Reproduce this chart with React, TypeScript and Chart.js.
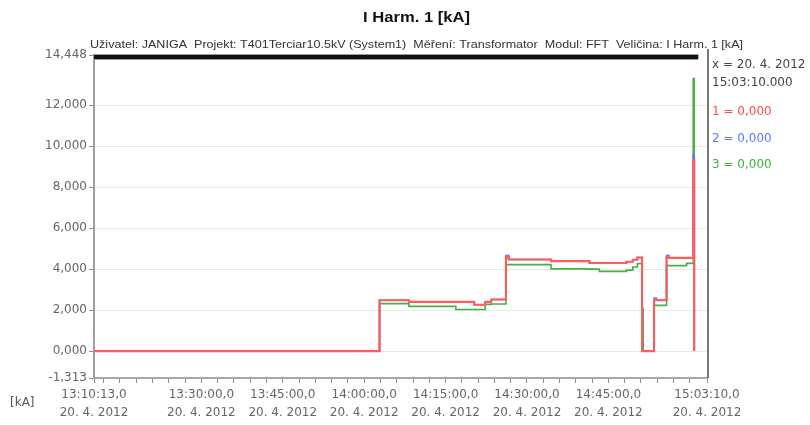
import React, { useEffect, useRef } from 'react';
import { Chart, registerables } from 'chart.js';

Chart.register(...registerables);

// ---- data (kA) ----
const times = [
  '13:10:13', '14:02:50', '14:08:15', '14:16:53', '14:20:17', '14:22:18', '14:23:25',
  '14:26:07', '14:26:40', '14:34:25', '14:41:30', '14:43:20', '14:48:19', '14:49:30',
  '14:50:20', '14:51:13', '14:51:25', '14:53:25', '14:53:50', '14:55:43', '14:56:10',
  '14:59:24', '15:00:38', '15:00:49',
];
const phase1 = [
  0, 2.48, 2.4, 2.4, 2.26, 2.4, 2.52,
  4.56, 4.47, 4.39, 4.3, 4.3, 4.36, 4.46,
  4.57, 0, 0, 2.48, 2.48, 4.55, 4.55,
  4.55, 9.34, 0,
];
const phase2 = [
  0, 2.48, 2.4, 2.4, 2.26, 2.4, 2.52,
  4.66, 4.47, 4.39, 4.3, 4.3, 4.36, 4.46,
  4.57, 0, 0, 2.59, 2.48, 4.66, 4.55,
  4.55, 9.58, 0.1,
];
const phase3 = [
  0, 2.315, 2.18, 2.03, 2.03, 2.28, 2.3,
  4.22, 4.22, 4.01, 4.0, 3.89, 3.95, 4.1,
  4.27, 2.08, 0, 2.23, 2.23, 4.17, 4.17,
  4.28, 13.3, 0,
];
const xStart = '13:10:13';
const xEnd = '15:03:10';
const yMin = -1.313;
const yMax = 14.448;
const yTicks = [-1.313, 0, 2, 4, 6, 8, 10, 12, 14.448];
const dateLabel = '20. 4. 2012';
const cursorTime = '15:03:10.000';
const legendValues = ['0,000', '0,000', '0,000'];
const title = 'I Harm. 1 [kA]';
const subtitle =
  'Uživatel: JANIGA  Projekt: T401Terciar10.5kV (System1)  Měření: Transformator  Modul: FFT  Veličina: I Harm. 1 [kA]';
const unitLabel = '[kA]';

const colors = ['#ff5c5c', '#5a78ff', '#45b045'];
const widths = [2.1, 1.6, 1.6];
const legendColors = ['#ff4a4a', '#5a78ff', '#3cb43c'];

const toSec = (s: string) => {
  const [h, m, sec] = s.split(':').map(Number);
  return h * 3600 + m * 60 + sec;
};
const pad = (n: number) => String(n).padStart(2, '0');
const fmtTime = (v: number) => {
  const h = Math.floor(v / 3600);
  const m = Math.floor((v % 3600) / 60);
  const s = Math.round(v % 60);
  return `${pad(h)}:${pad(m)}:${pad(s)},0`;
};
const fmtVal = (v: number) => Number(v).toFixed(3).replace('.', ',');

const X_MIN = toSec(xStart);
const X_MAX = toSec(xEnd);

function fitText(ctx: CanvasRenderingContext2D, text: string, x: number, y: number, width: number) {
  const w = ctx.measureText(text).width;
  const sx = width / w;
  ctx.save();
  ctx.translate(x, y);
  ctx.scale(sx, 1);
  ctx.textAlign = 'left';
  ctx.fillText(text, 0, 0);
  ctx.restore();
}

const decor = {
  id: 'decor',
  afterDatasetsDraw(chart: any) {
    const { ctx, chartArea, scales } = chart;
    const lastX = scales.x.getPixelForValue(toSec(times[times.length - 1]));
    ctx.save();
    // top black bar
    ctx.fillStyle = '#9a9a9a';
    ctx.fillRect(chartArea.left, chartArea.top - 1, lastX + 4 - chartArea.left, 6);
    ctx.fillStyle = '#111';
    ctx.fillRect(chartArea.left, chartArea.top, lastX + 4 - chartArea.left, 4);
    // right frame line
    ctx.strokeStyle = '#4a4a4a';
    ctx.lineWidth = 1.5;
    ctx.beginPath();
    ctx.moveTo(chartArea.right + 1, 49);
    ctx.lineTo(chartArea.right + 1, chartArea.bottom);
    ctx.stroke();
    ctx.restore();
  },
  afterDraw(chart: any) {
    const { ctx } = chart;
    ctx.save();
    ctx.textBaseline = 'middle';
    // title
    ctx.fillStyle = '#111';
    ctx.font = 'bold 14px "Liberation Sans", Arial, sans-serif';
    fitText(ctx, title, 363, 18, 107);
    // subtitle
    ctx.fillStyle = '#333';
    ctx.font = '11px "Liberation Sans", Arial, sans-serif';
    fitText(ctx, subtitle, 90, 45, 653);
    // right legend
    ctx.font = '12px "DejaVu Sans", sans-serif';
    ctx.textAlign = 'left';
    ctx.fillStyle = '#444';
    ctx.fillText(`x = ${dateLabel}`, 712, 65);
    ctx.fillText(cursorTime, 712, 83);
    legendValues.forEach((v, i) => {
      ctx.fillStyle = legendColors[i];
      ctx.fillText(`${i + 1} = ${v}`, 712, 112 + i * 26.5);
    });
    // unit label
    ctx.fillStyle = '#555';
    ctx.fillText(unitLabel, 10, 403);
    ctx.restore();
  },
};

export default function App() {
  const ref = useRef<HTMLCanvasElement | null>(null);
  useEffect(() => {
    if (!ref.current) return;
    const mk = (vals: number[]) => times.map((t, i) => ({ x: toSec(t), y: vals[i] }));
    const series = [phase1, phase2, phase3];
    const chart = new Chart(ref.current, {
      type: 'line',
      data: {
        datasets: series.map((s, i) => ({
          label: String(i + 1),
          data: mk(s),
          borderColor: colors[i],
          backgroundColor: colors[i],
          borderWidth: widths[i],
          pointRadius: 0,
          stepped: true,
          fill: false,
        })),
      },
      options: {
        animation: false,
        responsive: false,
        events: [],
        layout: { padding: { top: 55, right: 103, left: 0, bottom: 0 } },
        plugins: { legend: { display: false }, tooltip: { enabled: false }, title: { display: false } },
        scales: {
          x: {
            type: 'linear',
            min: X_MIN,
            max: X_MAX,
            afterBuildTicks(scale: any) {
              const ticks = [{ value: X_MIN }];
              let t = Math.ceil(X_MIN / 180) * 180;
              if (t === X_MIN) t += 180;
              for (; t < X_MAX - 30; t += 180) ticks.push({ value: t });
              ticks.push({ value: X_MAX });
              scale.ticks = ticks;
            },
            afterFit(scale: any) {
              scale.height = 47;
            },
            grid: { drawOnChartArea: false, color: '#8c8c8c', tickLength: 5, lineWidth: 1 },
            border: { color: '#a8a8a8', width: 2 },
            ticks: {
              autoSkip: false,
              maxRotation: 0,
              minRotation: 0,
              padding: 3,
              color: '#666',
              font: { family: '"DejaVu Sans", sans-serif', size: 12, lineHeight: 1.5 },
              callback(value: any) {
                const v = Number(value);
                if (v === X_MIN || v === X_MAX) return [fmtTime(v), dateLabel];
                if (v % 900 === 0 && v - X_MIN > 600 && X_MAX - v > 600) return [fmtTime(v), dateLabel];
                return '';
              },
            },
          },
          y: {
            min: yMin,
            max: yMax,
            afterBuildTicks(scale: any) {
              scale.ticks = yTicks.map((v) => ({ value: v }));
            },
            afterFit(scale: any) {
              scale.width = 94;
            },
            grid: {
              color: (c: any) =>
                c.tick && (c.tick.value === yMin || c.tick.value === yMax) ? 'rgba(0,0,0,0)' : '#e8e8e8',
              tickColor: '#8c8c8c',
              tickLength: 5,
            },
            border: { color: '#a0a0a0', width: 2 },
            ticks: {
              padding: 2,
              color: '#666',
              font: { family: '"DejaVu Sans", sans-serif', size: 12 },
              callback: (v: any) => fmtVal(Number(v)),
            },
          },
        },
      },
      plugins: [decor],
    } as any);
    return () => chart.destroy();
  }, []);
  return (
    <div style={{ position: 'absolute', left: 0, top: 0, width: 810, height: 425, background: '#fff' }}>
      <canvas ref={ref} width={810} height={425} style={{ width: 810, height: 425 }} />
    </div>
  );
}
